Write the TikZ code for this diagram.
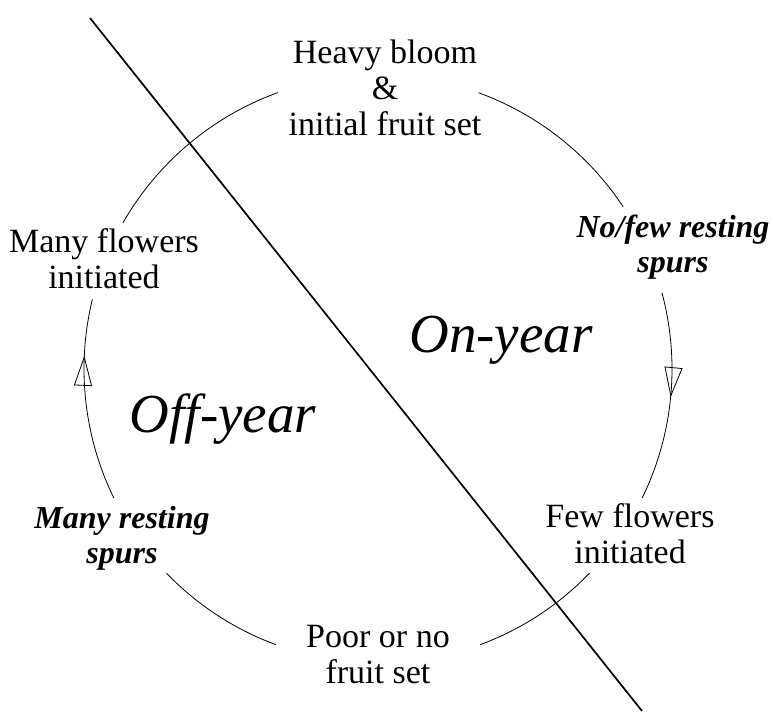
\documentclass[tikz,border=0pt]{standalone}
\usepackage{fontspec}
\setmainfont{Liberation Serif}
\usetikzlibrary{arrows.meta,decorations.markings}
\begin{document}
\begin{tikzpicture}[x=1pt,y=-1pt,
  lbl/.style={font=\fontsize{34}{36}\selectfont, align=center, anchor=base, inner sep=0pt},
  blbl/.style={font=\fontsize{32}{35}\selectfont\bfseries\itshape, align=center, anchor=base, inner sep=0pt},
  yr/.style={font=\fontsize{55}{60}\selectfont\itshape, anchor=base, inner sep=0pt},
  cyc/.style={line width=0.8pt},
  cycarrow/.style={cyc, postaction={decorate}, decoration={markings, mark=at position #1 with {\arrow{Triangle[open, length=30pt, width=18pt, line width=0.8pt]}}}},
  divider/.style={line width=1.7pt}
]
\useasboundingbox (0,0) rectangle (773,713);
\fill[white] (0,0) rectangle (773,713);
\coordinate (c) at (378,369);
% labels (anchor = baseline of last line)
\node[lbl] (heavy) at (385,135) {Heavy bloom\\\&\\initial fruit set};
\node[blbl] (nofew) at (673,272) {No/few resting\\spurs};
\node[lbl] (few) at (630,563) {Few flowers\\initiated};
\node[lbl] (poor) at (378,683) {Poor or no\\fruit set};
\node[blbl] (manyr) at (122,563) {Many resting\\spurs};
\node[lbl] (manyf) at (104,288) {Many flowers\\initiated};
\node[yr] (on) at (501,352) {On-year};
\node[yr] (off) at (223,432) {Off-year};
% cycle arcs
\draw[cyc] (c) ++(-70:294) arc[start angle=-70, end angle=-33.5, radius=294];
\draw[cycarrow=0.5] (c) ++(-15:294) arc[start angle=-15, end angle=26, radius=294];
\draw[cyc] (c) ++(44:294) arc[start angle=44, end angle=69.7, radius=294];
\draw[cyc] (c) ++(110.3:294) arc[start angle=110.3, end angle=136, radius=294];
\draw[cycarrow=0.72] (c) ++(154:294) arc[start angle=154, end angle=193.7, radius=294];
\draw[cyc] (c) ++(209.8:294) arc[start angle=209.8, end angle=250.1, radius=294];
% divider
\coordinate (lt) at (90,18);
\coordinate (lb) at (642,711);
\draw[divider] (lt) -- (lb);
\end{tikzpicture}
\end{document}
